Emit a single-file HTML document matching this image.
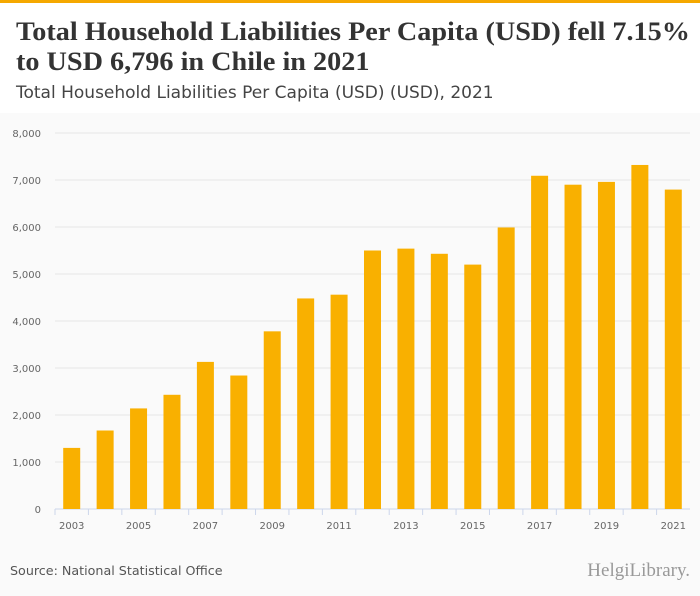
<!DOCTYPE html>
<html><head><meta charset="utf-8"><style>
body{margin:0;width:700px;height:596px;background:#fafafa;overflow:hidden;font-family:"Liberation Sans",sans-serif;position:relative}
#hdr{position:absolute;left:0;top:0;width:700px;height:113px;background:#fff;border-top:3px solid #f5a800;box-sizing:border-box}
#title{position:absolute;left:16px;top:14px;font-family:"Liberation Serif",serif;font-weight:bold;font-size:26px;line-height:30px;color:#333;margin:0;transform:scaleX(1.085);transform-origin:0 0;white-space:nowrap}
#sub{position:absolute;left:16px;top:80px;font-family:"DejaVu Sans",sans-serif;font-size:17px;color:#444;white-space:nowrap}
#src{position:absolute;left:10px;top:563px;font-family:"DejaVu Sans",sans-serif;font-size:12.7px;color:#555}
#logo{position:absolute;right:10px;top:560px;font-family:"Liberation Serif",serif;font-size:19px;color:#999}
</style></head><body>
<div id="hdr">
<h1 id="title">Total Household Liabilities Per Capita (USD) fell 7.15%<br>to USD 6,796 in Chile in 2021</h1>
<div id="sub">Total Household Liabilities Per Capita (USD) (USD), 2021</div>
</div>
<svg id="chart" width="700" height="596" style="position:absolute;left:0;top:0"></svg>
<div id="src">Source: National Statistical Office</div>
<div id="logo">HelgiLibrary.</div>
<script>
const years=[2003,2004,2005,2006,2007,2008,2009,2010,2011,2012,2013,2014,2015,2016,2017,2018,2019,2020,2021];
const values=[1300,1670,2140,2430,3130,2840,3780,4480,4560,5500,5540,5430,5200,5990,7090,6900,6960,7320,6796];
const yTicks=[0,1000,2000,3000,4000,5000,6000,7000,8000];
const svg=document.getElementById('chart');const NS='http://www.w3.org/2000/svg';
const x0=55,x1=690,y0=509,yTop=133,ymax=8000;
const band=(x1-x0)/years.length;
const xs=i=>x0+band*i;
const ys=v=>y0-(v/ymax)*(y0-yTop);
function mk(t,a){const e=document.createElementNS(NS,t);for(const k in a)e.setAttribute(k,a[k]);svg.appendChild(e);return e;}
yTicks.forEach(t=>{
 const l=mk('line',{x1:x0,x2:x1,y1:ys(t),y2:ys(t),stroke:t===0?'#ccd6eb':'#e6e6e6','stroke-width':1});
 
 
 const tx=mk('text',{x:41,y:ys(t)+4,'text-anchor':'end','font-size':10,fill:'#666','font-family':'DejaVu Sans, sans-serif'});
 tx.textContent=t.toLocaleString('en-US');
 
 
});
years.forEach((y,i)=>{
 const tk=mk('line',{x1:xs(i),x2:xs(i),y1:y0,y2:y0+6,stroke:'#ccd6eb'});
 
 
 const w=17;
 const r=mk('rect',{x:xs(i)+band/2-w/2,y:ys(values[i]),width:w,height:y0-ys(values[i]),fill:'#f9b000'});
 
 
 if(i%2===0){const t=mk('text',{x:xs(i)+band/2,y:y0+20,'text-anchor':'middle','font-size':10,fill:'#666','font-family':'DejaVu Sans, sans-serif'});t.textContent=y;
 
 }
});
</script>
</body></html>
